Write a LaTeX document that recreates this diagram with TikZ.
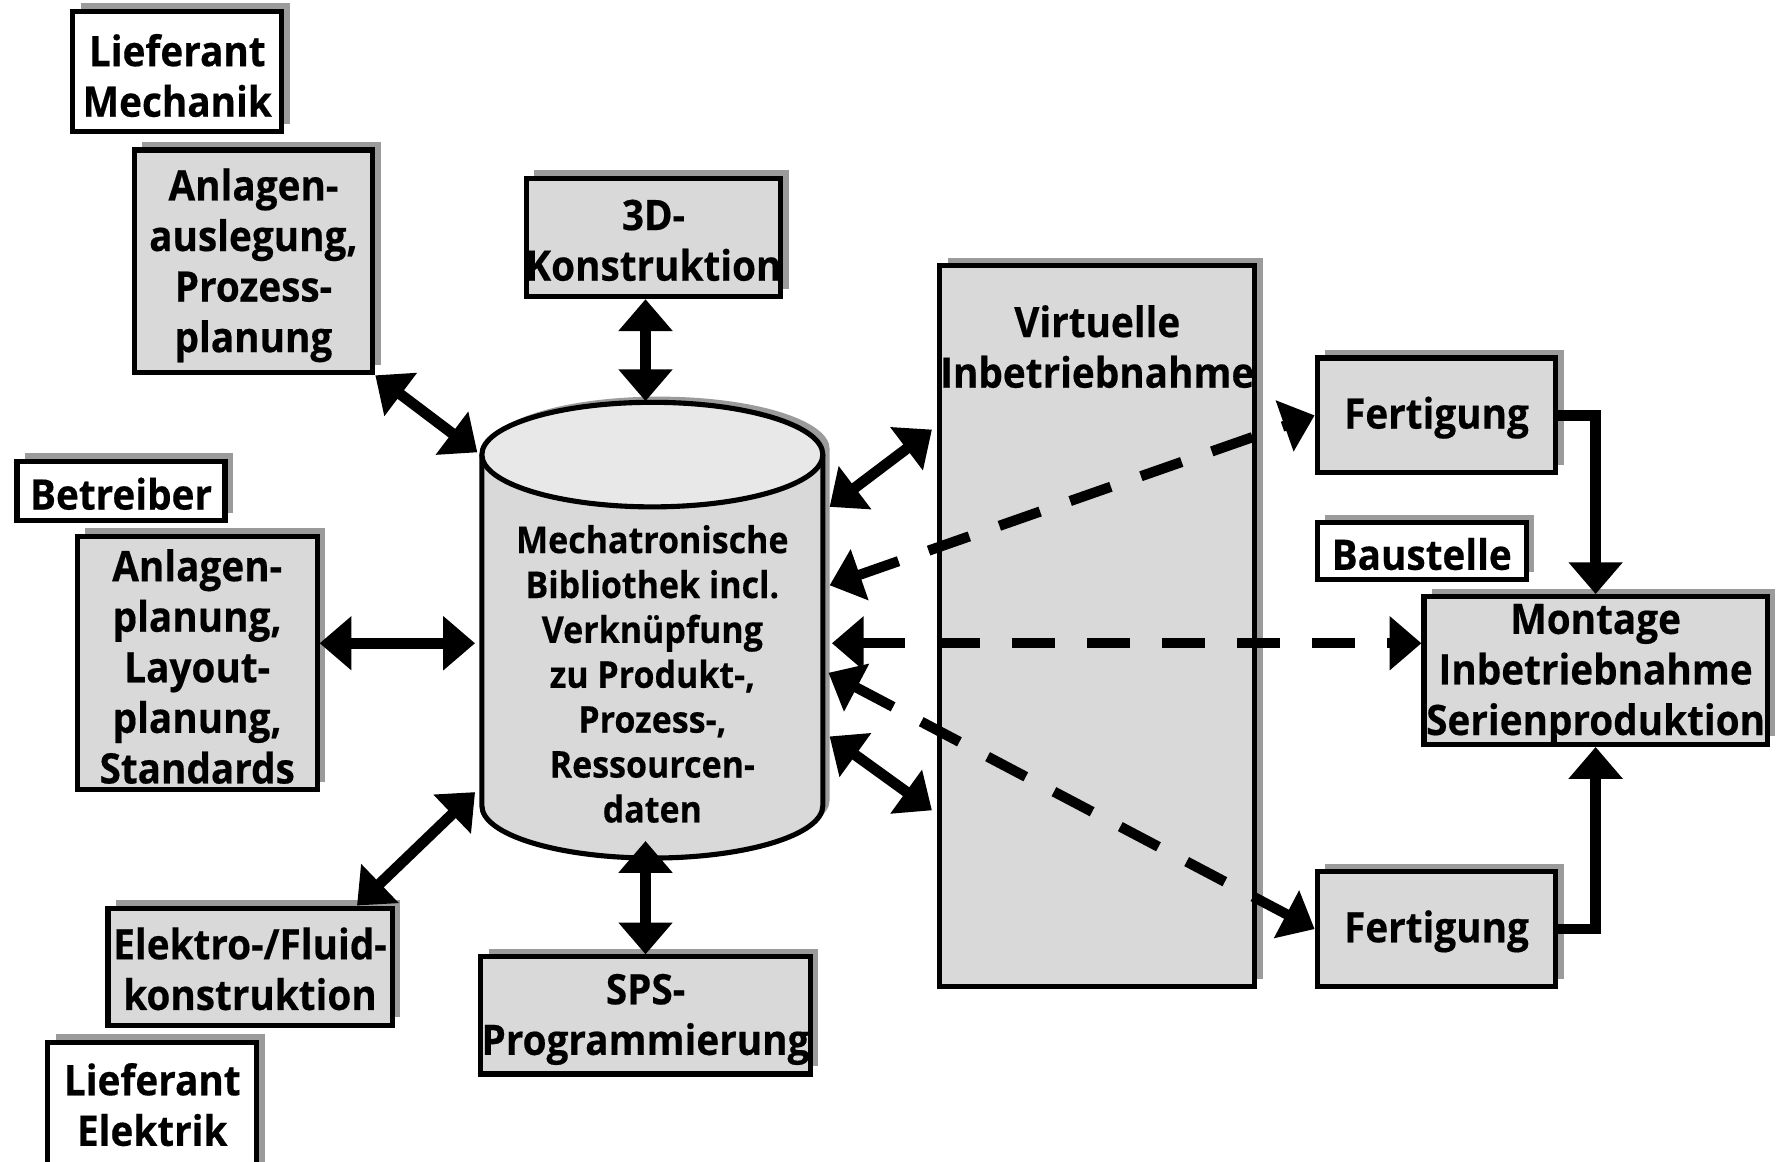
\documentclass[tikz,border=0pt]{standalone}
\usepackage{fontspec}
\newfontfamily\labfont[FakeStretch=0.92,FakeBold=0.4]{Open Sans}
\usetikzlibrary{arrows.meta,shadows,calc}
\definecolor{boxgray}{RGB}{217,217,217}
\definecolor{topgray}{RGB}{232,232,232}
\definecolor{shadegray}{RGB}{155,155,155}
\begin{document}
\begin{tikzpicture}[x=1pt,y=-1pt,
  frame/.style={draw, line width=4.5pt, fill=boxgray, inner sep=0pt,
    drop shadow={shadow xshift=7pt, shadow yshift=7pt, fill=shadegray, opacity=1}},
  whiteframe/.style={frame, fill=white},
  lab/.style={font=\labfont\bfseries\fontsize{37}{44.5}\selectfont, align=center, inner sep=0pt, yshift=-1.5pt},
  dblab/.style={font=\labfont\bfseries\fontsize{32.5}{39.5}\selectfont, align=center, inner sep=0pt, yshift=-1pt},
  tip/.tip={Triangle[length=28pt,width=46pt]},
  dbl/.style={line width=9.5pt, tip-tip},
  dashdbl/.style={line width=9pt, dash pattern=on 38pt off 28pt, tip-tip},
  single/.style={line width=9.5pt, -tip}
]
\useasboundingbox (0,0) rectangle (1568,1022);
\fill[white] (0,0) rectangle (1568,1022);
\clip (0,0) rectangle (1568,1022);

% --- boxes ---
\node[whiteframe, minimum width=184, minimum height=106] (lm) at (156,63) {};
\node[lab] (lmt) at (156,65) {Lieferant\\Mechanik};

\node[frame, minimum width=210, minimum height=196] (aa) at (223,230) {};
\node[lab] (aat) at (223,232) {Anlagen-\\auslegung,\\Prozess-\\planung};

\node[frame, minimum width=224, minimum height=104] (k3d) at (575,209) {};
\node[lab] (k3dt) at (575,210) {3D-\\Konstruktion};

\node[whiteframe, minimum width=183, minimum height=52] (be) at (106.5,432) {};
\node[lab] (bet) at (106.5,433) {Betreiber};

\node[frame, minimum width=211, minimum height=223] (ap) at (173.5,583.5) {};
\node[lab] (apt) at (173.5,585) {Anlagen-\\planung,\\Layout-\\planung,\\Standards};

\node[frame, minimum width=250, minimum height=103] (el) at (220,850.5) {};
\node[lab] (elt) at (220,851) {Elektro-/Fluid-\\konstruktion};

\node[whiteframe, minimum width=184, minimum height=125] (le) at (134,979.5) {};
\node[lab] (let) at (134,970.5) {Lieferant\\Elektrik};

\node[frame, minimum width=290, minimum height=103] (sps) at (568,893.5) {};
\node[lab] (spst) at (568,895.5) {SPS-\\Programmierung};

\node[frame, minimum width=277, minimum height=634] (vi) at (965.5,551) {};
\node[lab] (vit) at (965.5,303.5) {Virtuelle\\Inbetriebnahme};

\node[frame, minimum width=210, minimum height=101] (f1) at (1264,365.5) {};
\node[lab] (f1t) at (1264,366) {Fertigung};

\node[whiteframe, minimum width=184, minimum height=50] (bs) at (1251,485) {};
\node[lab] (bst) at (1251,486) {Baustelle};

\node[frame, minimum width=302, minimum height=130] (mo) at (1404,590) {};
\node[lab] (mot) at (1404,592) {Montage\\Inbetriebnahme\\Serienproduktion};

\node[frame, minimum width=210, minimum height=101] (f2) at (1264,817.5) {};
\node[lab] (f2t) at (1264,818) {Fertigung};

% --- database cylinder ---
\fill[shadegray, shift={(6pt,5pt)}] (424,400) -- (424,709)
  arc[start angle=180, end angle=360, x radius=150pt, y radius=46pt] -- (724,400)
  arc[start angle=0, end angle=180, x radius=150pt, y radius=46pt] -- cycle;
\fill[boxgray] (424,400) -- (424,709)
  arc[start angle=180, end angle=360, x radius=150pt, y radius=46pt] -- (724,400)
  arc[start angle=0, end angle=180, x radius=150pt, y radius=46pt] -- cycle;
\draw[line width=4.5pt, line join=round] (424,400) -- (424,709)
  arc[start angle=180, end angle=360, x radius=150pt, y radius=46pt] -- (724,400);
\draw[line width=4.5pt, fill=topgray] (574,400) ellipse [x radius=150pt, y radius=46pt];
\node[dblab] (db) at (574,592) {Mechatronische\\Bibliothek incl.\\Verknüpfung\\zu Produkt-,\\Prozess-,\\Ressourcen-\\daten};

% --- connector ends on the cylinder and the commissioning block ---
\coordinate (dbaa) at (420,398);
\coordinate (dbtop) at (568,353);
\coordinate (dbap) at (418,566);
\coordinate (dbel) at (418,697);
\coordinate (dbbot) at (568,740);
\coordinate (dbr1) at (730,446);
\coordinate (dbr2) at (730,515);
\coordinate (dbr3) at (732,566);
\coordinate (dbr4) at (729,592);
\coordinate (dbr5) at (730,648);
\coordinate (vi1) at (820,378);
\coordinate (vi2) at (820,713);

% --- solid exchange arrows ---
\draw[dbl] (aa.south east) -- (dbaa);
\draw[dbl] (k3d.south -| dbtop) -- (dbtop);
\draw[dbl] (ap.east |- dbap) -- (dbap);
\draw[dbl] ($(el.north west)!0.87!(el.north east)$) -- (dbel);
\draw[dbl] (sps.north) -- (dbbot);
\draw[dbl] (dbr1) -- (vi1);
\draw[dbl] (dbr5) -- (vi2);

% --- dashed data flows ---
\draw[dashdbl] (dbr2) -- (f1.west);
\draw[dashdbl] (dbr3) -- (dbr3 -| mo.west);
\draw[dashdbl] (dbr4) -- (f2.west);

% --- production flow ---
\draw[single] (f1.east) -| (mo.north);
\draw[single] (f2.east) -| (mo.south);
\end{tikzpicture}
\end{document}
